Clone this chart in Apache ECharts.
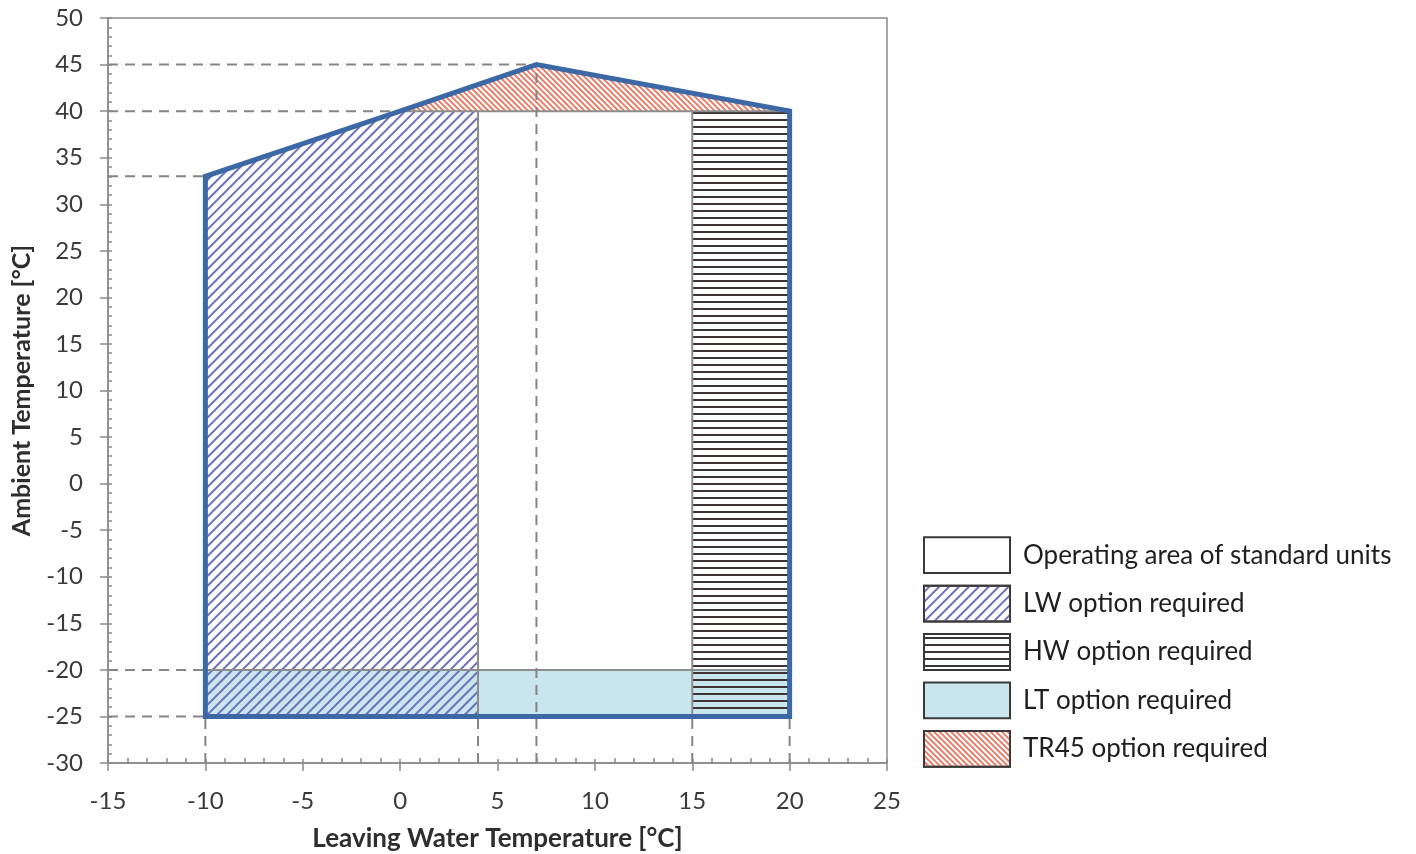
<!DOCTYPE html>
<html><head><meta charset="utf-8">
<script src="https://cdn.jsdelivr.net/npm/echarts@6/dist/echarts.min.js"></script>
<style>html,body{margin:0;padding:0;background:#fff}#c{width:1416px;height:854px}</style>
</head><body><div id="c"></div>
<script>
// ---- axis ranges / ticks ----
const xRange = [-15, 25];
const xStep = 5;
const yRange = [-30, 50];
const yStep = 5;
const xName = 'Leaving Water Temperature [°C]';
const yName = 'Ambient Temperature [°C]';

// ---- zones (data coordinates: [leaving water °C, ambient °C]) ----
const envelope = [[-10, -25], [-10, 33], [0, 40], [7, 45], [20, 40], [20, -25]];
const stdZone  = [[4, -20], [4, 40], [15, 40], [15, -20]];
const lwZone   = [[-10, -25], [-10, 33], [0, 40], [4, 40], [4, -25]];
const hwZone   = [[15, -25], [15, 40], [20, 40], [20, -25]];
const ltZone   = [[-10, -25], [-10, -20], [20, -20], [20, -25]];
const tr45Zone = [[0, 40], [7, 45], [20, 40]];

// inner grey boundaries [x1, y1, x2, y2]
const greyLines = [[0, 40, 20, 40], [4, -25, 4, 40], [15, -25, 15, 40], [-10, -20, 20, -20]];
// dashed reference lines [x1, y1, x2, y2]
const dashLines = [
  [-15, 45, 7, 45], [-15, 40, 0, 40], [-15, 33, -10, 33], [-15, -20, -10, -20], [-15, -25, -10, -25],
  [-10, -30, -10, -25], [4, -30, 4, -25], [7, -30, 7, 45], [15, -30, 15, -25], [20, -30, 20, -25]
];

// ---- legend ----
const legendLabels = ['Operating area of standard units', 'LW option required', 'HW option required', 'LT option required', 'TR45 option required'];

// ---- styles ----
const FONT = 'Lato';
const AXIS_GREY = '#8a8a8a';
const LT_FILL = '#c9e6ee';
const decalLW = () => ({ symbol: 'rect', symbolSize: 1, color: '#6d71b8', dashArrayX: [1, 0], dashArrayY: [2, 5], rotation: -Math.PI / 4 });
const decalHW = () => ({ symbol: 'rect', symbolSize: 1, color: '#3e3232', dashArrayX: [1, 0], dashArrayY: [2, 5], rotation: 0 });
const decalTR = () => ({ symbol: 'rect', symbolSize: 1, color: '#e6806c', dashArrayX: [1, 0], dashArrayY: [2, 2], rotation: Math.PI / 4 });

const legendStyles = [
  () => ({ fill: '#ffffff' }),
  () => ({ fill: '#ffffff', decal: decalLW() }),
  () => ({ fill: '#ffffff', decal: decalHW() }),
  () => ({ fill: LT_FILL }),
  () => ({ fill: '#ffffff', decal: decalTR() })
];

function polySeries(pts, styleFn, z) {
  return {
    type: 'custom', xAxisIndex: 0, yAxisIndex: 0, z: z, silent: true, clip: false,
    data: [[pts[0][0], pts[0][1]]],
    renderItem: function (params, api) {
      return { type: 'polygon', shape: { points: pts.map(p => api.coord(p)) }, style: styleFn() };
    }
  };
}
function segSeries(segs, style, z) {
  return {
    type: 'custom', xAxisIndex: 0, yAxisIndex: 0, z: z, silent: true, clip: false,
    data: segs,
    renderItem: function (params, api) {
      const a = api.coord([api.value(0), api.value(1)]);
      const b = api.coord([api.value(2), api.value(3)]);
      return { type: 'line', shape: { x1: a[0], y1: a[1], x2: b[0], y2: b[1] }, style: Object.assign({}, style) };
    }
  };
}

const tickLine = { color: AXIS_GREY, width: 1.5 };
const labelStyle = { fontFamily: FONT, fontSize: 24, color: '#3a3a3a' };
const nameStyle = { fontFamily: FONT, fontSize: 25, fontWeight: 'bold', color: '#2e2e2e' };

const chart = echarts.init(document.getElementById('c'), null, { renderer: 'canvas' });
chart.setOption({
  animation: false,
  backgroundColor: '#ffffff',
  grid: [
    { left: 108, right: 529, top: 18, bottom: 91, show: true, borderColor: AXIS_GREY, borderWidth: 1.5,
      containLabel: false, outerBoundsMode: 'none' },
    { left: 924, width: 86, top: 531, height: 242, show: false, containLabel: false, outerBoundsMode: 'none' }
  ],
  xAxis: [
    { type: 'value', gridIndex: 0, position: 'bottom', min: xRange[0], max: xRange[1], interval: xStep,
      axisLine: { show: true, onZero: false, lineStyle: tickLine },
      axisTick: { show: true, inside: false, length: 8, lineStyle: tickLine },
      minorTick: { show: false }, splitLine: { show: false },
      axisLabel: Object.assign({ margin: 26 }, labelStyle),
      name: xName, nameLocation: 'middle', nameGap: 63,
      nameTextStyle: Object.assign({}, nameStyle, { fontSize: 26 }) },
    { type: 'value', gridIndex: 0, position: 'bottom', min: xRange[0], max: xRange[1], interval: xStep,
      axisLine: { show: false, onZero: false }, axisTick: { show: true, inside: true, length: 4, lineStyle: tickLine },
      minorTick: { show: true, splitNumber: 5, length: 5, lineStyle: tickLine },
      splitLine: { show: false }, axisLabel: { show: false } },
    { type: 'value', gridIndex: 1, min: 0, max: 1, show: false }
  ],
  yAxis: [
    { type: 'value', gridIndex: 0, position: 'left', min: yRange[0], max: yRange[1], interval: yStep,
      axisLine: { show: true, onZero: false, lineStyle: tickLine },
      axisTick: { show: true, inside: false, length: 8, lineStyle: tickLine },
      minorTick: { show: false }, splitLine: { show: false },
      axisLabel: Object.assign({ margin: 25 }, labelStyle),
      name: yName, nameLocation: 'middle', nameGap: 74, nameTextStyle: nameStyle },
    { type: 'value', gridIndex: 0, position: 'left', min: yRange[0], max: yRange[1], interval: yStep,
      axisLine: { show: false, onZero: false }, axisTick: { show: true, inside: true, length: 4, lineStyle: tickLine },
      minorTick: { show: true, splitNumber: 5, length: 4, lineStyle: tickLine },
      splitLine: { show: false }, axisLabel: { show: false } },
    { type: 'category', gridIndex: 1, position: 'right', inverse: true, data: legendLabels,
      axisLine: { show: false }, axisTick: { show: false }, splitLine: { show: false },
      axisLabel: { margin: 13, fontFamily: FONT, fontSize: 26, color: '#1f1f1f' } }
  ],
  series: [
    polySeries(ltZone, () => ({ fill: LT_FILL }), 1),
    polySeries(stdZone, () => ({ fill: 'rgba(255,255,255,0)' }), 2),
    polySeries(lwZone, () => ({ fill: 'rgba(255,255,255,0)', decal: decalLW() }), 3),
    polySeries(hwZone, () => ({ fill: 'rgba(255,255,255,0)', decal: decalHW() }), 3),
    polySeries(tr45Zone, () => ({ fill: 'rgba(255,255,255,0)', decal: decalTR() }), 3),
    segSeries(greyLines, { stroke: '#8c8c8c', lineWidth: 2 }, 4),
    segSeries(dashLines, { stroke: '#858585', lineWidth: 2, lineDash: [10, 7] }, 4),
    polySeries(envelope, () => ({ fill: 'none', stroke: '#3d68a6', lineWidth: 5, lineJoin: 'miter' }), 5),
    {
      type: 'custom', xAxisIndex: 2, yAxisIndex: 2, silent: true, z: 5,
      data: legendLabels.map((l, i) => [0, i]),
      renderItem: function (params, api) {
        const i = api.value(1);
        const p0 = api.coord([0, i]);
        const p1 = api.coord([1, i]);
        const h = api.size([0, 1])[1] * 0.74;
        return { type: 'rect', shape: { x: p0[0], y: p0[1] - h / 2, width: p1[0] - p0[0], height: h },
          style: Object.assign({ stroke: '#3a3a3a', lineWidth: 2 }, legendStyles[i]()) };
      }
    }
  ]
});
</script></body></html>
